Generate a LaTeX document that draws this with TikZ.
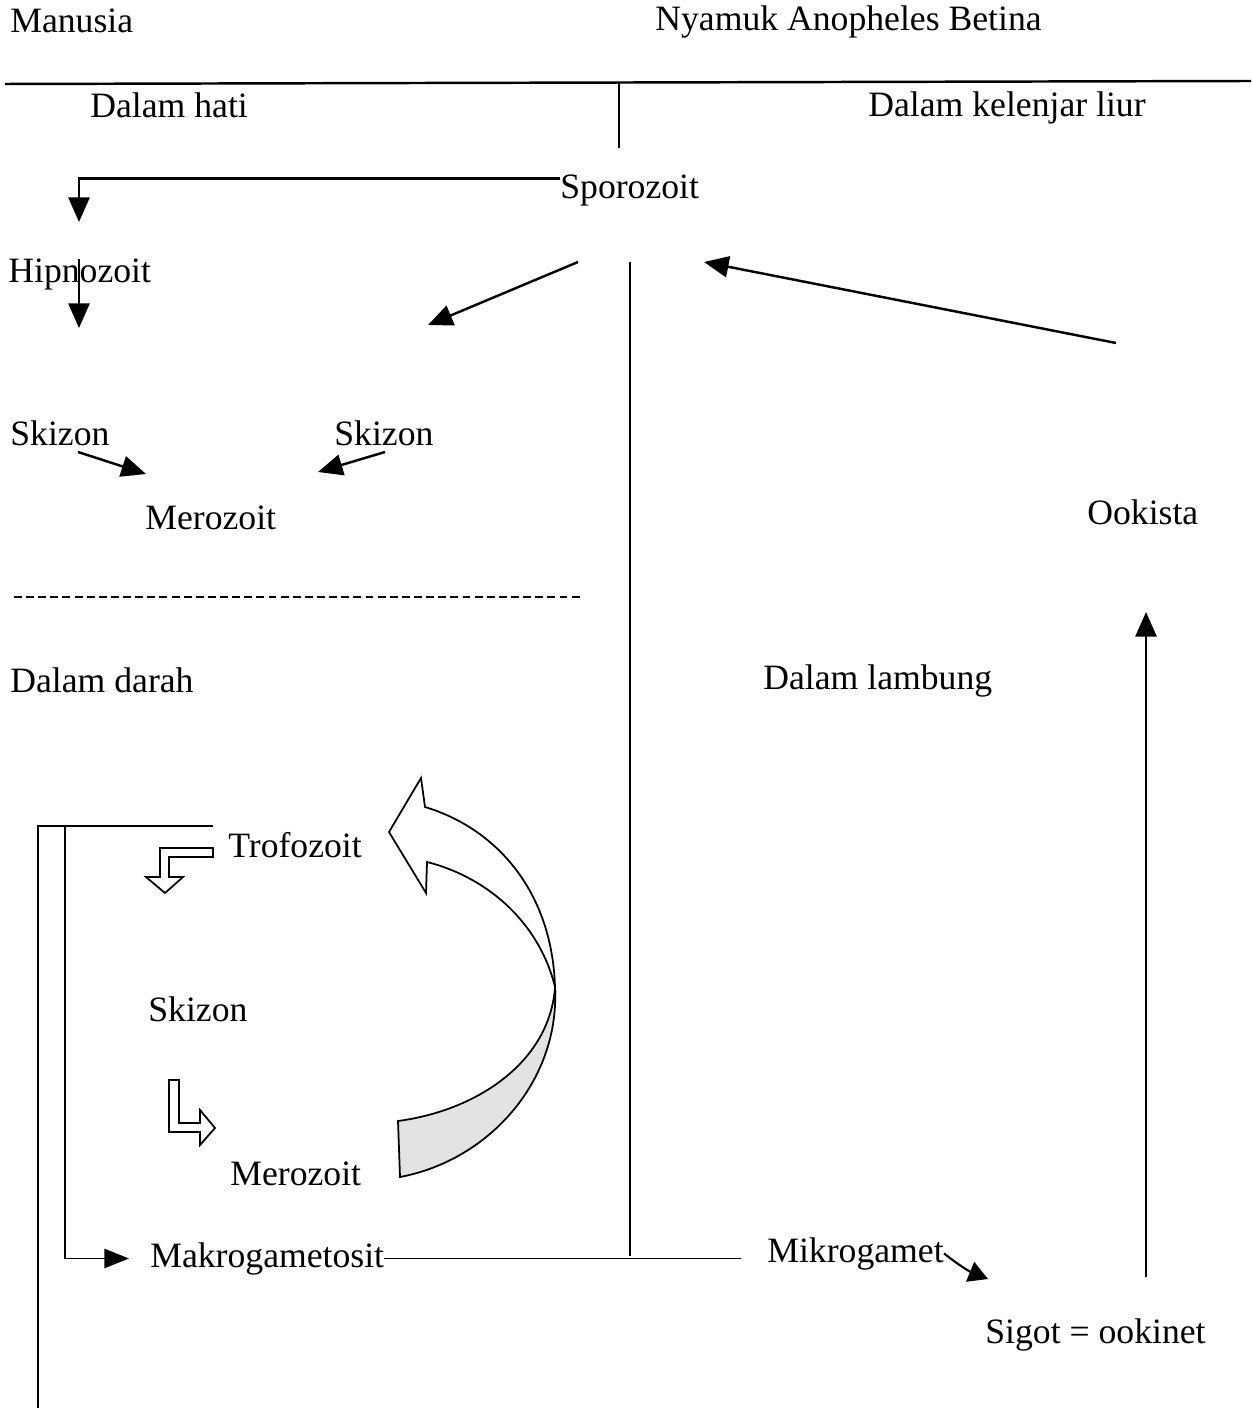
\documentclass[tikz,border=0pt]{standalone}
\usepackage{fontspec}
\setmainfont{Liberation Serif}
\usetikzlibrary{arrows.meta}

\tikzset{
  stage/.style={inner sep=0pt, anchor=base west, font=\fontsize{20.3}{24}\selectfont},
  flow/.style={line width=1.4pt, -{Triangle[length=14pt, width=12pt]}},
  frame/.style={line width=1pt},
  hollow/.style={draw, line width=1pt, fill=white, line join=miter}
}

\begin{document}
\begin{tikzpicture}[x=0.02cm, y=-0.02cm]
        \useasboundingbox (0,0) rectangle (1251,1408);

        % judul kolom
        \node[stage] (manusia) at (10,33) {Manusia};
        \node[stage] (nyamuk) at (655,31) {Nyamuk Anopheles Betina};
        \draw[line width=1.4pt] (5,84) -- (1251,81);
        \draw[frame] (619,82) -- (619,148);

        % dalam hati
        \node[stage] (hati) at (90,118) {Dalam hati};
        \node[stage] (liur) at (868,117) {Dalam kelenjar liur};
        \node[stage] (spor) at (560,199) {Sporozoit};
        \node[stage] (hip) at (8,283) {Hipnozoit};
        \coordinate (hipTop) at (79,222);
        \coordinate (hipEnd) at (79,328);
        \draw[flow] ([yshift=7pt]spor.west) -| (hipTop);
        \draw[flow] (hip.north -| hipEnd) -- (hipEnd);

        \coordinate (sporOut) at (578,262);
        \coordinate (hatiIn) at (428,325);
        \draw[flow] (sporOut) -- (hatiIn);

        \node[stage] (skA) at (10,446) {Skizon};
        \node[stage] (skB) at (334,446) {Skizon};
        \node[stage] (merA) at (145,529) {Merozoit};
        \coordinate (skAout) at (78,452);
        \coordinate (skAin) at (146,474);
        \coordinate (skBout) at (385,452);
        \coordinate (skBin) at (318,472);
        \draw[flow] (skAout) -- (skAin);
        \draw[flow] (skBout) -- (skBin);

        \draw[line width=1.5pt, dash pattern=on 4.5pt off 2.4pt] (14,597) -- (580,597);

        % pemisah manusia / nyamuk
        \draw[line width=1.1pt] (630,262) -- (630,1256);

        % nyamuk
        \node[stage] (ook) at (1087,524) {Ookista};
        \coordinate (ookOut) at (1116,343);
        \coordinate (sporIn) at (704,262);
        \draw[flow] (ookOut) -- (sporIn);
        \node[stage] (lambung) at (763,689) {Dalam lambung};
        \coordinate (sigUp) at (1146,1277);
        \coordinate (ookIn) at (1146,612);
        \draw[flow] (sigUp) -- (ookIn);

        % dalam darah
        \node[stage] (darah) at (10,692) {Dalam darah};
        \node[stage] (trof) at (228,857) {Trofozoit};
        \node[stage] (skC) at (148,1021) {Skizon};
        \node[stage] (merB) at (230,1185) {Merozoit};
        \node[stage] (makro) at (150,1267) {Makrogametosit};
        \node[stage] (mikro) at (767,1262) {Mikrogamet};
        \node[stage] (sigot) at (985,1343) {Sigot = ookinet};

        % siklus darah
        \draw[hollow] (213,848) -- (160,848) -- (160,877) -- (146,877) -- (165,893)
              -- (183,877) -- (169,877) -- (169,857) -- (213,857) -- cycle;
        \draw[hollow] (169,1080) -- (179,1080) -- (179,1123) -- (200,1123) -- (200,1110)
              -- (215,1128) -- (200,1145) -- (200,1132) -- (169,1132) -- cycle;
        \coordinate (twist) at (555,987);
        \draw[hollow] (twist) .. controls (552,890) and (495,828) .. (425,807) -- (421,778)
              -- (389,832) -- (426,893) -- (427,862) .. controls (490,878) and (540,925) .. (twist) -- cycle;
        \draw[hollow, fill=gray!22] (twist) .. controls (560,1080) and (490,1160) .. (400,1177)
              -- (398,1121) .. controls (480,1110) and (550,1060) .. (twist) -- cycle;

        % gametosit
        \coordinate (trofL) at (213,826);
        \draw[frame] (trofL) -- (38,826) -- (38,1408);
        \draw[frame, -{Triangle[length=14pt, width=11pt]}, shorten >=12pt] (65,826) |- (makro.west);
        \draw[frame, shorten >=15pt] (makro.east) -- (makro.east -| mikro.west);
        \coordinate (mikroOut) at (988,1279);
        \draw[line width=1.2pt, -{Triangle[length=11pt, width=12pt]}] (mikro.east) to[bend right=8] (mikroOut);
\end{tikzpicture}
\end{document}
